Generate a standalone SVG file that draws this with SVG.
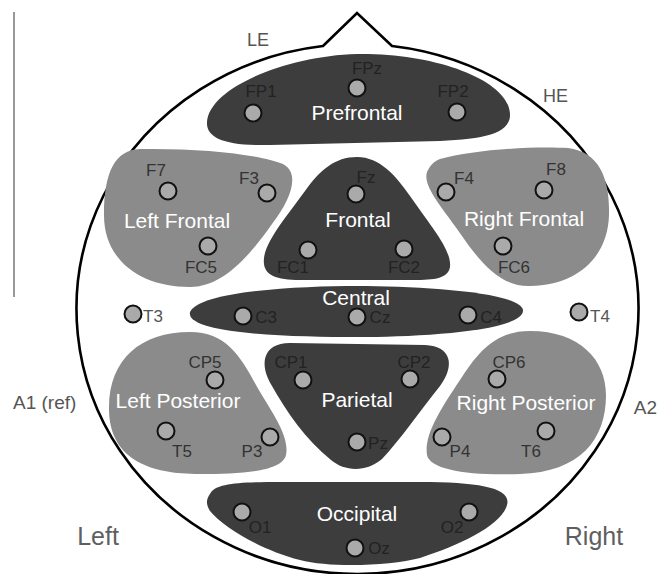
<svg xmlns="http://www.w3.org/2000/svg" width="659" height="574" viewBox="0 0 659 574">
<style>
text{font-family:"Liberation Sans",Arial,sans-serif}
.dark{fill:#3d3d3d}
.gray{fill:#8b8b8b}
.el{fill:#aaaaaa;stroke:#111;stroke-width:2}
.lab{font-size:17px;text-anchor:middle}
.ld{fill:#222}
.lg{fill:#333}
.lw{fill:#555}
.reg{font-size:21px;fill:#fff;text-anchor:middle}
.out{font-size:18px;fill:#555}
.big{font-size:25px;fill:#5f5f5f;text-anchor:middle}
</style>
<rect width="659" height="574" fill="#fff"/>
<line x1="14" y1="12" x2="14" y2="297" stroke="#777" stroke-width="1.5"/>
<g id="head">
<path d="M323,46 L357,13 L392,46 A281 265 0 1 1 323,46 Z" fill="none" stroke="#000" stroke-width="2.6" stroke-linejoin="miter"/>
</g>
<g id="regions">
<g id="prefrontal"><path class="dark" d="M207,122 C209,88 285,56 357,54 C430,53 496,76 508,105 C518,132 490,139 440,141 L270,145 C225,146 206,138 207,122 Z"/><text class="reg" x="357" y="120">Prefrontal</text></g>
<g id="left-frontal"><path class="gray" d="M140,149 C200,148 258,154 283,164 C300,173 292,198 272,224 C248,258 222,287 190,287 C140,287 104,260 104,215 C104,172 115,150 140,149 Z"/><text class="reg" x="177" y="228">Left Frontal</text></g>
<g id="frontal"><path class="dark" d="M357,157 C380,157 396,176 410,196 C430,225 452,250 450,267 C448,280 430,280 410,280 L300,280 C275,280 262,275 264,258 C266,240 290,212 305,191 C320,170 335,157 357,157 Z"/><text class="reg" x="358" y="227">Frontal</text></g>
<g id="right-frontal"><path class="gray" d="M440,159 C472,150 530,146 568,148 C600,152 610,180 609,215 C608,255 580,285 530,286 C502,287 482,265 462,236 C442,207 420,184 428,170 C431,164 435,161 440,159 Z"/><text class="reg" x="524" y="226">Right Frontal</text></g>
<g id="central"><path class="dark" d="M190,312 C200,291 300,286 357,286 C420,286 520,292 523,310 C525,331 420,337 357,337 C290,337 185,334 190,312 Z"/><text class="reg" x="356" y="305">Central</text></g>
<g id="left-posterior"><path class="gray" d="M190,332 C225,332 240,355 256,385 C270,410 290,435 286,455 C282,472 240,474 200,474 C150,474 110,460 109,410 C108,360 140,332 190,332 Z"/><text class="reg" x="178" y="408">Left Posterior</text></g>
<g id="parietal"><path class="dark" d="M290,343 L425,345 C452,346 455,366 440,386 C420,411 400,440 382,459 C367,472 345,472 331,460 C306,440 286,411 272,386 C259,365 262,343 290,343 Z"/><text class="reg" x="357" y="407">Parietal</text></g>
<g id="right-posterior"><path class="gray" d="M530,331 C580,331 606,360 606,395 C606,440 580,472 520,474 C470,476 430,470 427,455 C424,435 440,410 460,380 C478,352 495,331 530,331 Z"/><text class="reg" x="526" y="410">Right Posterior</text></g>
<g id="occipital"><path class="dark" d="M210,494 C216,481 250,482 300,482 L420,482 C480,482 512,488 507,505 C502,525 460,545 420,558 C390,566 330,568 300,560 C260,550 222,526 210,511 C205,503 207,498 210,494 Z"/><text class="reg" x="357" y="521">Occipital</text></g>
</g>
<g id="electrodes">
<g id="FP1"><circle class="el" cx="253" cy="113" r="8.5"/><text class="lab ld" x="261" y="97">FP1</text></g>
<g id="FPz"><circle class="el" cx="357" cy="88" r="8.5"/><text class="lab ld" x="367" y="74">FPz</text></g>
<g id="FP2"><circle class="el" cx="457" cy="112" r="8.5"/><text class="lab ld" x="453" y="97">FP2</text></g>
<g id="F7"><circle class="el" cx="168" cy="191" r="8.5"/><text class="lab lg" x="156" y="176">F7</text></g>
<g id="F3"><circle class="el" cx="267" cy="193" r="8.5"/><text class="lab lg" x="249" y="184">F3</text></g>
<g id="Fz"><circle class="el" cx="356" cy="194" r="8.5"/><text class="lab ld" x="366" y="183">Fz</text></g>
<g id="F4"><circle class="el" cx="446" cy="192" r="8.5"/><text class="lab lg" x="464" y="184">F4</text></g>
<g id="F8"><circle class="el" cx="544" cy="190" r="8.5"/><text class="lab lg" x="556" y="175">F8</text></g>
<g id="FC5"><circle class="el" cx="208" cy="246" r="8.5"/><text class="lab lg" x="201" y="273">FC5</text></g>
<g id="FC1"><circle class="el" cx="308" cy="250" r="8.5"/><text class="lab ld" x="293" y="273">FC1</text></g>
<g id="FC2"><circle class="el" cx="404" cy="249" r="8.5"/><text class="lab ld" x="404" y="273">FC2</text></g>
<g id="FC6"><circle class="el" cx="503" cy="246" r="8.5"/><text class="lab lg" x="514" y="273">FC6</text></g>
<g id="T3"><circle class="el" cx="133" cy="314" r="8.5"/><text class="lab lw" x="153" y="322">T3</text></g>
<g id="C3"><circle class="el" cx="243" cy="316" r="8.5"/><text class="lab ld" x="266" y="323">C3</text></g>
<g id="Cz"><circle class="el" cx="357" cy="317" r="8.5"/><text class="lab ld" x="380" y="323">Cz</text></g>
<g id="C4"><circle class="el" cx="468" cy="315" r="8.5"/><text class="lab ld" x="491" y="323">C4</text></g>
<g id="T4"><circle class="el" cx="579" cy="312" r="8.5"/><text class="lab lw" x="600" y="322">T4</text></g>
<g id="CP5"><circle class="el" cx="215" cy="380" r="8.5"/><text class="lab lg" x="205" y="368">CP5</text></g>
<g id="CP1"><circle class="el" cx="303" cy="380" r="8.5"/><text class="lab ld" x="291" y="368">CP1</text></g>
<g id="CP2"><circle class="el" cx="410" cy="379" r="8.5"/><text class="lab ld" x="414" y="368">CP2</text></g>
<g id="CP6"><circle class="el" cx="497" cy="379" r="8.5"/><text class="lab lg" x="509" y="368">CP6</text></g>
<g id="T5"><circle class="el" cx="166" cy="431" r="8.5"/><text class="lab lg" x="182" y="457">T5</text></g>
<g id="P3"><circle class="el" cx="270" cy="437" r="8.5"/><text class="lab lg" x="252" y="457">P3</text></g>
<g id="Pz"><circle class="el" cx="357" cy="442" r="8.5"/><text class="lab ld" x="378" y="449">Pz</text></g>
<g id="P4"><circle class="el" cx="442" cy="437" r="8.5"/><text class="lab lg" x="460" y="457">P4</text></g>
<g id="T6"><circle class="el" cx="546" cy="431" r="8.5"/><text class="lab lg" x="531" y="457">T6</text></g>
<g id="O1"><circle class="el" cx="242" cy="512" r="8.5"/><text class="lab ld" x="260" y="533">O1</text></g>
<g id="Oz"><circle class="el" cx="355" cy="548" r="8.5"/><text class="lab ld" x="379" y="554">Oz</text></g>
<g id="O2"><circle class="el" cx="469" cy="512" r="8.5"/><text class="lab ld" x="452" y="533">O2</text></g>
</g>
<g id="labels">
<text class="out" x="247" y="46">LE</text>
<text class="out" x="543" y="102">HE</text>
<text class="out" x="13" y="409" style="font-size:19px">A1 (ref)</text>
<text class="out" x="657" y="414" text-anchor="end" style="font-size:19px">A2</text>
<text class="big" x="98" y="545">Left</text>
<text class="big" x="594" y="545">Right</text>
</g>
</svg>
